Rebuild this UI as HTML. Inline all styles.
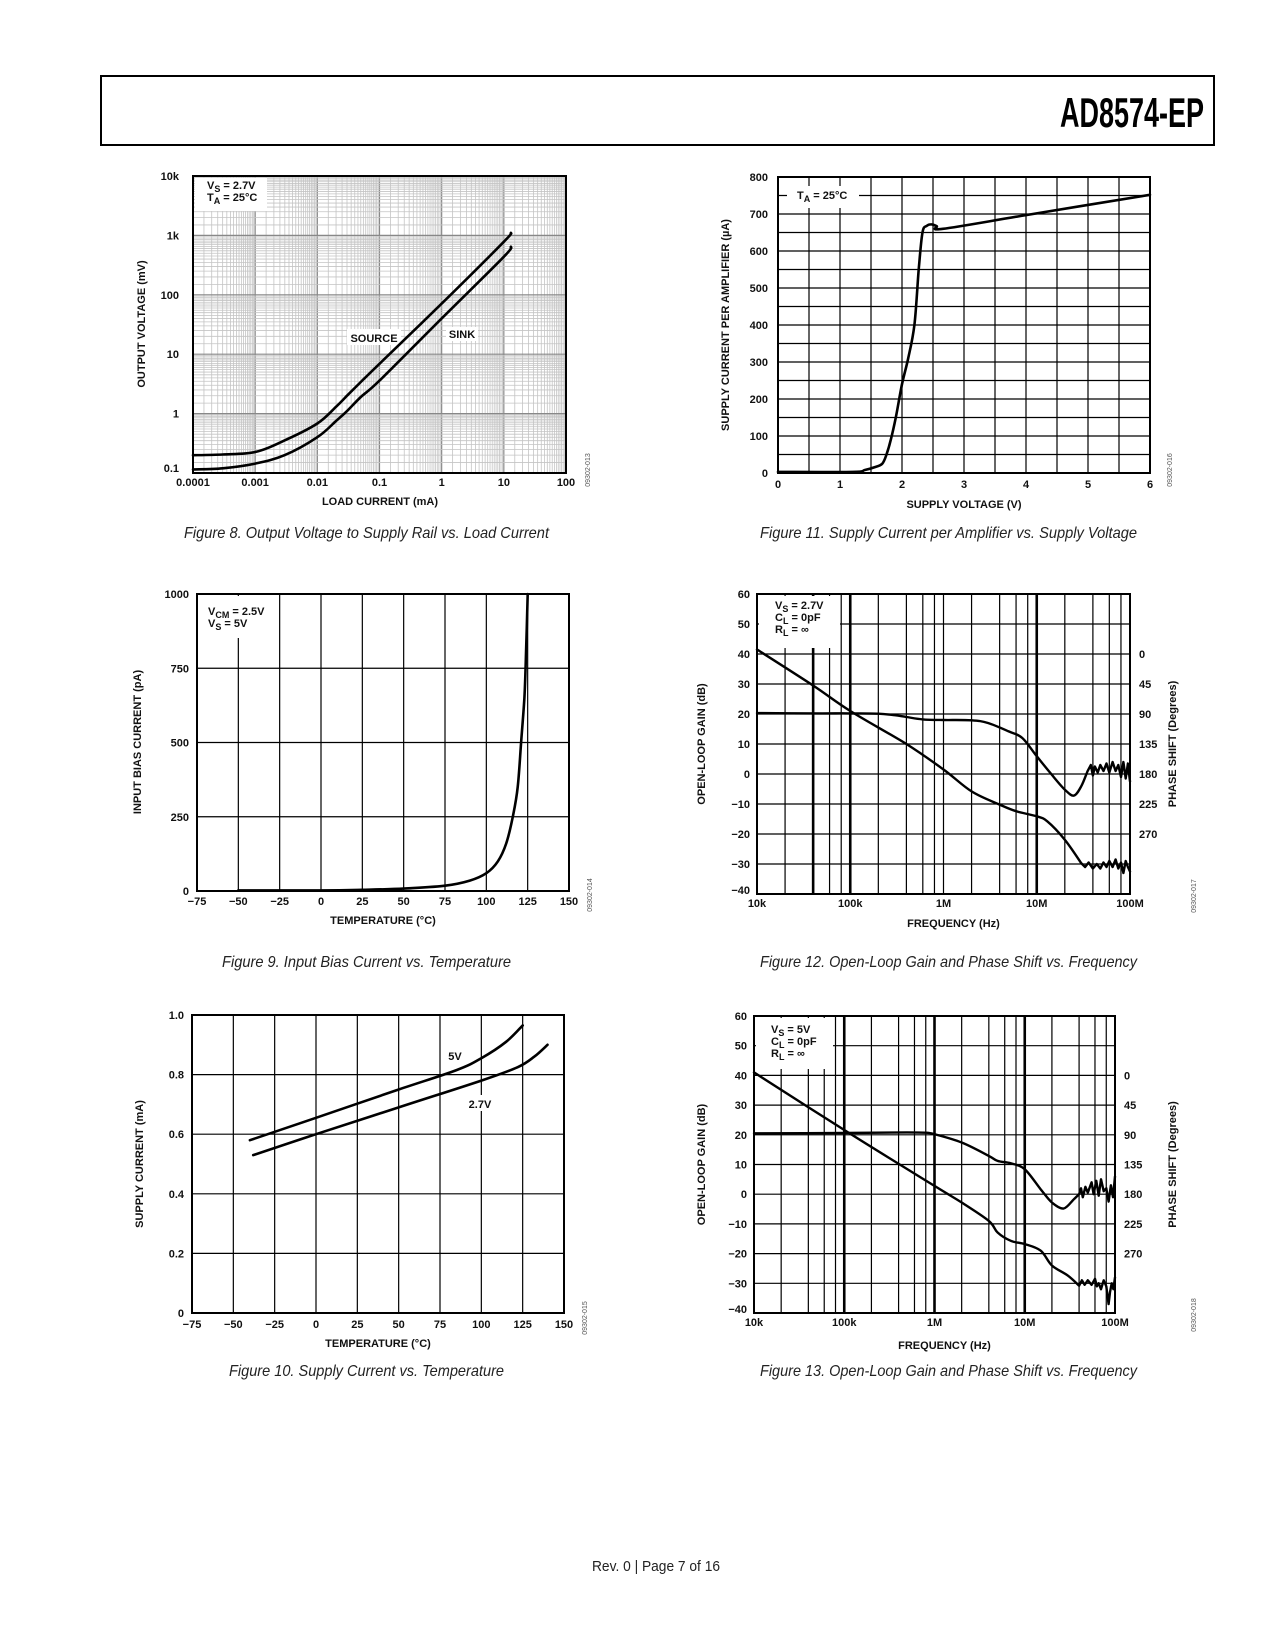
<!DOCTYPE html>
<html><head><meta charset="utf-8"><style>
html,body{margin:0;padding:0;background:#fff}
svg{display:block}
text{font-family:"Liberation Sans",Arial,sans-serif}
.tk{font-size:11px;font-weight:bold;fill:#111}
.tt{font-size:11px;font-weight:bold;fill:#111}
.cap{font-size:16px;font-style:italic;fill:#222}
.id{font-size:7px;fill:#555}
</style></head><body>
<svg id="page" xmlns="http://www.w3.org/2000/svg" width="1275" height="1650" viewBox="0 0 1275 1650">
<rect x="0" y="0" width="1275" height="1650" fill="#fff"/>
<rect x="101" y="76" width="1113" height="69" fill="none" stroke="#000" stroke-width="2"/>
<text x="1060" y="127" font-size="42" font-weight="bold" textLength="144" lengthAdjust="spacingAndGlyphs">AD8574-EP</text>
<text class="cap" x="184" y="538" textLength="365" lengthAdjust="spacingAndGlyphs">Figure 8. Output Voltage to Supply Rail vs. Load Current</text>
<text class="cap" x="760" y="538" textLength="377" lengthAdjust="spacingAndGlyphs">Figure 11. Supply Current per Amplifier vs. Supply Voltage</text>
<text class="cap" x="222" y="967" textLength="289" lengthAdjust="spacingAndGlyphs">Figure 9. Input Bias Current vs. Temperature</text>
<text class="cap" x="760" y="967" textLength="377" lengthAdjust="spacingAndGlyphs">Figure 12. Open-Loop Gain and Phase Shift vs. Frequency</text>
<text class="cap" x="229" y="1376" textLength="275" lengthAdjust="spacingAndGlyphs">Figure 10. Supply Current vs. Temperature</text>
<text class="cap" x="760" y="1376" textLength="377" lengthAdjust="spacingAndGlyphs">Figure 13. Open-Loop Gain and Phase Shift vs. Frequency</text>
<text x="592" y="1571" font-size="15" fill="#222" textLength="128" lengthAdjust="spacingAndGlyphs">Rev. 0 | Page 7 of 16</text>
</svg>
<script>
// ---------- Figure 8 data ----------
const f8Current=[0.0001,0.0003,0.001,0.003,0.01,0.02,0.03,0.05,0.1,1,10,13];
const f8Source=[0.199,0.205,0.226,0.355,0.68,1.3,2.0,3.4,6.9,71,780,1100];
const f8Sink=[0.115,0.12,0.144,0.2,0.4,0.75,1.1,1.9,3.6,40,437,645];
const f8XTicks=[0.0001,0.001,0.01,0.1,1,10,100];
const f8XLabels=['0.0001','0.001','0.01','0.1','1','10','100'];
const f8YTicks=[0.1,1,10,100,1000,10000];
const f8YLabels=['0.1','1','10','100','1k','10k'];
// ---------- Figure 11 data ----------
const f11Volt=[0,1.2,1.4,1.55,1.68,1.75,1.82,1.9,2.0,2.1,2.2,2.27,2.33,2.4,2.48,2.56,2.66,4,6];
const f11Curr=[3,3,8,15,25,50,90,150,240,310,400,550,650,668,672,667,660,697,752];
const f11XTicks=[0,1,2,3,4,5,6];
const f11YTicks=[0,100,200,300,400,500,600,700,800];
// ---------- Figure 9 data ----------
const f9Temp=[-50,0,25,50,75,90,100,107,112,116,119,121,123,124,125];
const f9Bias=[2,2,4,8,18,35,60,100,160,250,350,500,650,800,1000];
const f9XTicks=[-75,-50,-25,0,25,50,75,100,125,150];
const f9XLabels=['\u221275','\u221250','\u221225','0','25','50','75','100','125','150'];
const f9YTicks=[0,250,500,750,1000];
// ---------- Figure 10 data ----------
const f10Temp5=[-40,0,50,85,100,115,125];
const f10Curr5=[0.58,0.655,0.75,0.815,0.855,0.91,0.965];
const f10Temp27=[-38,0,50,100,122,132,140];
const f10Curr27=[0.53,0.6,0.69,0.78,0.825,0.86,0.9];
const f10YTicks=[0,0.2,0.4,0.6,0.8,1.0];
const f10YLabels=['0','0.2','0.4','0.6','0.8','1.0'];
// ---------- Figure 12 data ----------
const f12GainF=[1e4,4e4,1e5,4e5,1e6,2e6,4e6,6e6,1e7,1.3e7,2e7,3e7];
const f12Gain=[41.5,29.5,21,10,1.5,-5.8,-10.2,-12.4,-14.1,-15.8,-21.9,-29.7];
const f12GainNoiseF=[3.3e7,3.6e7,4e7,4.4e7,4.8e7,5.2e7,5.6e7,6e7,6.5e7,7e7,7.5e7,8e7,8.5e7,9e7,9.5e7,1e8];
const f12GainNoise=[-31,-29.5,-31.5,-30,-31.5,-29.5,-31,-29,-31,-28.5,-31.5,-29.5,-33,-29,-31,-32.5];
const f12PhaseF=[1e4,5e4,1e5,2e5,3e5,4e5,6e5,1e6,2e6,3e6,5e6,7e6,1e7,1.5e7,2e7,2.5e7,3e7,3.5e7];
const f12Phase=[20.3,20.2,20.2,20.1,19.6,19,18.2,18,17.9,17,14.2,12,5.9,-0.8,-5.2,-7.2,-4.1,0.9];
const f12PhaseNoiseF=[3.8e7,4e7,4.2e7,4.5e7,4.8e7,5.2e7,5.6e7,6e7,6.5e7,7e7,7.5e7,8e7,8.5e7,9e7,9.5e7,1e8];
const f12PhaseNoise=[3,-0.5,2.5,0.5,3,1,3.5,0.5,4,1,3,-1,4,-1.5,3.5,-2.5];
// ---------- Figure 13 data ----------
const f13GainF=[1e4,1e5,1e6,2e6,4e6,5e6,7e6,1e7,1.5e7,2e7,3e7,4e7];
const f13Gain=[41,21.6,2.8,-2.8,-9,-12.9,-15.7,-16.8,-19,-24,-27.4,-30.8];
const f13GainNoiseF=[4.3e7,4.6e7,5e7,5.5e7,6e7,6.3e7,6.6e7,7e7,7.5e7,8e7,8.5e7,8.8e7,9.2e7,9.6e7,1e8];
const f13GainNoise=[-29,-30.5,-29,-30.5,-28.5,-31,-30,-32,-29,-31,-37,-33,-30,-32,-28];
const f13PhaseF=[1e4,1e5,5e5,8e5,1e6,2e6,4e6,5e6,7e6,1e7,1.5e7,2e7,2.7e7,3.5e7,4e7];
const f13Phase=[20.5,20.6,20.8,20.7,20.2,17.4,12.9,11.2,10.4,8.4,1.7,-2.8,-4.8,-1.7,0];
const f13PhaseNoiseF=[4.2e7,4.4e7,4.7e7,5e7,5.5e7,5.8e7,6.2e7,6.6e7,7e7,7.5e7,8e7,8.5e7,9e7,9.5e7,1e8];
const f13PhaseNoise=[2,-1,2.5,0.5,4,0,4.5,-0.5,5,1,2,-2.5,3,-1,6];
// shared for 12/13
const bodeXTicks=[1e4,1e5,1e6,1e7,1e8];
const bodeXLabels=['10k','100k','1M','10M','100M'];
const bodeYTicks=[-40,-30,-20,-10,0,10,20,30,40,50,60];
const bodeYLabels=['\u221240','\u221230','\u221220','\u221210','0','10','20','30','40','50','60'];
const phaseTicks=[40,30,20,10,0,-10,-20];
const phaseLabels=['0','45','90','135','180','225','270'];

const NS='http://www.w3.org/2000/svg';
const svg=document.getElementById('page');
function mk(tag,attrs,parent){const e=document.createElementNS(NS,tag);for(const k in attrs)e.setAttribute(k,attrs[k]);(parent||svg).appendChild(e);return e;}
function lin(d0,d1,r0,r1){return v=>r0+(v-d0)/(d1-d0)*(r1-r0);}
function lg(d0,d1,r0,r1){const a=Math.log10(d0),b=Math.log10(d1);return v=>r0+(Math.log10(v)-a)/(b-a)*(r1-r0);}
function smooth(pts){let d='M'+pts[0][0].toFixed(1)+','+pts[0][1].toFixed(1);
 for(let i=0;i<pts.length-1;i++){const p0=pts[Math.max(0,i-1)],p1=pts[i],p2=pts[i+1],p3=pts[Math.min(pts.length-1,i+2)];
 const c1=[p1[0]+(p2[0]-p0[0])/6,p1[1]+(p2[1]-p0[1])/6],c2=[p2[0]-(p3[0]-p1[0])/6,p2[1]-(p3[1]-p1[1])/6];
 d+=' C'+c1[0].toFixed(1)+','+c1[1].toFixed(1)+' '+c2[0].toFixed(1)+','+c2[1].toFixed(1)+' '+p2[0].toFixed(1)+','+p2[1].toFixed(1);}return d;}
function poly(pts){return 'M'+pts.map(p=>p[0].toFixed(1)+','+p[1].toFixed(1)).join(' L');}
function vline(g,x,b,w,c){const l=mk('line',{x1:x,x2:x,y1:b.T,y2:b.B,stroke:c,'stroke-width':w},g);return l;}
function hline(g,y,b,w,c){const l=mk('line',{x1:b.L,x2:b.R,y1:y,y2:y,stroke:c,'stroke-width':w},g);return l;}
function txt(g,x,y,s,cls,anchor){const t=mk('text',{x:x,y:y,class:cls,'text-anchor':anchor||'middle'},g);t.textContent=s;return t;}
function rotTxt(g,x,y,s,cls){const t=mk('text',{x:0,y:0,class:cls,'text-anchor':'middle',transform:'translate('+x+','+y+') rotate(-90)'},g);t.textContent=s;return t;}
function frame(g,b){const r=mk('rect',{x:b.L,y:b.T,width:b.R-b.L,height:b.B-b.T,fill:'none',stroke:'#000','stroke-width':2},g);return r;}
function whiteBox(g,x,y,w,h){const r=mk('rect',{x:x,y:y,width:w,height:h,fill:'#fff'},g);return r;}
function legendLine(g,x,y,main,sub,rest){const t=mk('text',{x:x,y:y,class:'tt','text-anchor':'start'},g);
 const a=mk('tspan',{},t);a.textContent=main;const s=mk('tspan',{dy:3,'font-size':'9'},t);s.textContent=sub;const r=mk('tspan',{dy:-3},t);r.textContent=rest;return t;}
function curve(g,d,w){const p=mk('path',{d:d,fill:'none',stroke:'#000','stroke-width':w||2.6,'stroke-linejoin':'round','stroke-linecap':'round'},g);return p;}

// ================= FIGURE 8 =================
(function(){
 const b={L:193,R:566,T:176,B:473};
 const g=mk('g',{});
 
 
 const x=lg(1e-4,100,b.L,b.R), y=lg(0.1,1e4,b.B,b.T);
 for(let e=-4;e<2;e++){for(let m=1;m<10;m+=0.5){const v=Math.pow(10,e)*m;
   const l=vline(g,x(v),b,m===1?1.2:0.8,m===1?'#888':'#c4c4c4');
   
   }}
 for(let e=-1;e<4;e++){for(let m=1;m<10;m+=0.5){const v=Math.pow(10,e)*m;
   const l=hline(g,y(v),b,m===1?1.2:0.8,m===1?'#888':'#c4c4c4');
   
   }}
 const lb=whiteBox(g,b.L+2,b.T+2,72,33);
 
 const l1=legendLine(g,b.L+14,b.T+13,'V','S',' = 2.7V');
 
 const l2=legendLine(g,b.L+14,b.T+25,'T','A',' = 25\u00B0C');
 
 const w1=whiteBox(g,347,329,54,16);
 
 const w2=whiteBox(g,446,327,32,14);
 
 const s1=txt(g,374,342,'SOURCE','tt');
 
 const s2=txt(g,462,338,'SINK','tt');
 
 const c1=curve(g,smooth(f8Current.map((v,i)=>[x(v),y(f8Source[i])])));
 
 
 const c2=curve(g,smooth(f8Current.map((v,i)=>[x(v),y(f8Sink[i])])));
 
 
 const fr=frame(g,b);
 
 f8XTicks.forEach((v,i)=>{const t=txt(g,x(v),b.B+13,f8XLabels[i],'tk');
   });
 f8YTicks.forEach((v,i)=>{const t=txt(g,b.L-14,y(v)+(i===0?-1:4),f8YLabels[i],'tk','end');
   });
 const xt=txt(g,380,505,'LOAD CURRENT (mA)','tt');
 
 const yt=rotTxt(g,145,324,'OUTPUT VOLTAGE (mV)','tt');
 
 const id=rotTxt(g,590,470,'09302-013','id');
 
})();

// ================= FIGURE 11 =================
(function(){
 const b={L:778,R:1150,T:177,B:473};
 const g=mk('g',{});
 
 
 const x=lin(0,6,b.L,b.R), y=lin(0,800,b.B,b.T);
 for(let v=0.5;v<6;v+=0.5){const l=vline(g,x(v),b,1.2,'#000');
   }
 for(let v=50;v<800;v+=50){const l=hline(g,y(v),b,1.2,'#000');
   }
 const lb=whiteBox(g,b.L+9,b.T+9,72,22);
 
 const l1=legendLine(g,b.L+19,b.T+22,'T','A',' = 25\u00B0C');
 
 const c=curve(g,smooth(f11Volt.map((v,i)=>[x(v),y(f11Curr[i])])));
 
 
 const fr=frame(g,b);
 
 f11XTicks.forEach(v=>{const t=txt(g,x(v),b.B+15,String(v),'tk');
   });
 f11YTicks.forEach(v=>{const t=txt(g,b.L-10,y(v)+4,String(v),'tk','end');
   });
 const xt=txt(g,964,508,'SUPPLY VOLTAGE (V)','tt');
 
 const yt=rotTxt(g,729,325,'SUPPLY CURRENT PER AMPLIFIER (\u00B5A)','tt');
 
 const id=rotTxt(g,1172,470,'09302-016','id');
 
})();

// ================= FIGURE 9 =================
(function(){
 const b={L:197,R:569,T:594,B:891};
 const g=mk('g',{});
 
 
 const x=lin(-75,150,b.L,b.R), y=lin(0,1000,b.B,b.T);
 for(let v=-50;v<150;v+=25){const l=vline(g,x(v),b,1.2,'#000');
   }
 for(let v=250;v<1000;v+=250){const l=hline(g,y(v),b,1.2,'#000');
   }
 const lb=whiteBox(g,b.L+2,b.T+2,72,42);
 
 const l1=legendLine(g,b.L+11,b.T+21,'V','CM',' = 2.5V');
 
 const l2=legendLine(g,b.L+11,b.T+33,'V','S',' = 5V');
 
 const c=curve(g,smooth(f9Temp.map((v,i)=>[x(v),y(f9Bias[i])])));
 
 
 const fr=frame(g,b);
 
 f9XTicks.forEach((v,i)=>{const t=txt(g,x(v),b.B+14,f9XLabels[i],'tk');
   });
 f9YTicks.forEach(v=>{const t=txt(g,b.L-8,y(v)+4,String(v),'tk','end');
   });
 const xt=txt(g,383,924,'TEMPERATURE (\u00B0C)','tt');
 
 const yt=rotTxt(g,141,742,'INPUT BIAS CURRENT (pA)','tt');
 
 const id=rotTxt(g,592,895,'09302-014','id');
 
})();

// ================= FIGURE 10 =================
(function(){
 const b={L:192,R:564,T:1015,B:1313};
 const g=mk('g',{});
 
 
 const x=lin(-75,150,b.L,b.R), y=lin(0,1,b.B,b.T);
 for(let v=-50;v<150;v+=25){const l=vline(g,x(v),b,1.2,'#000');
   }
 for(let v=0.2;v<0.99;v+=0.2){const l=hline(g,y(v),b,1.2,'#000');
   }
 const w=whiteBox(g,462,1095,36,16);
 
 const c1=curve(g,smooth(f10Temp5.map((v,i)=>[x(v),y(f10Curr5[i])])));
 
 
 const c2=curve(g,smooth(f10Temp27.map((v,i)=>[x(v),y(f10Curr27[i])])));
 
 
 const t1=txt(g,455,1060,'5V','tt');
 
 const t2=txt(g,480,1108,'2.7V','tt');
 
 const fr=frame(g,b);
 
 f9XTicks.forEach((v,i)=>{const t=txt(g,x(v),b.B+15,f9XLabels[i],'tk');
   });
 f10YTicks.forEach((v,i)=>{const t=txt(g,b.L-8,y(v)+4,f10YLabels[i],'tk','end');
   });
 const xt=txt(g,378,1347,'TEMPERATURE (\u00B0C)','tt');
 
 const yt=rotTxt(g,143,1164,'SUPPLY CURRENT (mA)','tt');
 
 const id=rotTxt(g,587,1318,'09302-015','id');
 
})();

// ================= BODE (FIG 12 / 13) =================
function bode(b,thick,name,legendSupply,gf,gv,gnf,gnv,pf,pv,pnf,pnv,legX,legY,boxW,boxH,xTitleY,idTxt){
 const g=mk('g',{});
 
 
 const x=lg(1e4,1e8,b.L,b.R), y=lin(-40,60,b.B,b.T);
 for(let e=4;e<8;e++){[1,2,4,6,8].forEach(m=>{const v=Math.pow(10,e)*m;if(v===1e4)return;
   const l=vline(g,x(v),b,thick.includes(v)?2.6:1.2,'#000');
   });}
 for(let v=-30;v<60;v+=10){const l=hline(g,y(v),b,1.2,'#000');
   }
 const lb=whiteBox(g,b.L+2,b.T+2,boxW,boxH);
 
 const l1=legendLine(g,legX,legY,'V','S',' = '+legendSupply);
 
 const l2=legendLine(g,legX,legY+12,'C','L',' = 0pF');
 
 const l3=legendLine(g,legX,legY+24,'R','L',' = \u221E');
 
 const pg=gf.map((v,i)=>[x(v),y(gv[i])]);
 const c1=curve(g,smooth(pg)+' '+poly(gnf.map((v,i)=>[x(v),y(gnv[i])])).replace('M','L'),2.4);
 
 
 const pp=pf.map((v,i)=>[x(v),y(pv[i])]);
 const c2=curve(g,smooth(pp)+' '+poly(pnf.map((v,i)=>[x(v),y(pnv[i])])).replace('M','L'),2.4);
 
 
 const fr=frame(g,b);
 
 bodeXTicks.forEach((v,i)=>{const t=txt(g,x(v),b.B+13,bodeXLabels[i],'tk');
   });
 bodeYTicks.forEach((v,i)=>{const t=txt(g,b.L-7,y(v)+(i===0?0:4),bodeYLabels[i],'tk','end');
   });
 phaseTicks.forEach((v,i)=>{const t=txt(g,b.R+9,y(v)+4,phaseLabels[i],'tk','start');
   });
 const xt=txt(g,(b.L+b.R)/2+10,xTitleY,'FREQUENCY (Hz)','tt');
 
 const yt=rotTxt(g,705,(b.T+b.B)/2,'OPEN-LOOP GAIN (dB)','tt');
 
 const rt=rotTxt(g,1176,(b.T+b.B)/2,'PHASE SHIFT (Degrees)','tt');
 
 const id=rotTxt(g,1196,b.B+2,idTxt,'id');
 
}
bode({L:757,R:1130,T:594,B:894},[4e4,1e5,1e7],'chart-fig12-open-loop-2v7','2.7V',
 f12GainF,f12Gain,f12GainNoiseF,f12GainNoise,f12PhaseF,f12Phase,f12PhaseNoiseF,f12PhaseNoise,775,609,81,52,927,'09302-017');
bode({L:754,R:1115,T:1016,B:1313},[1e5,1e6,1e7],'chart-fig13-open-loop-5v','5V',
 f13GainF,f13Gain,f13GainNoiseF,f13GainNoise,f13PhaseF,f13Phase,f13PhaseNoiseF,f13PhaseNoise,771,1033,77,51,1349,'09302-018');
</script>
</body></html>
